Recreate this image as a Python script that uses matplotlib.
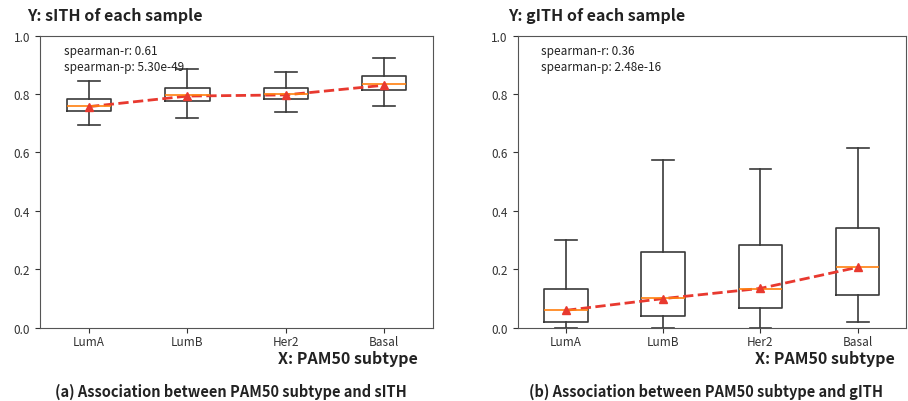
import matplotlib
matplotlib.use("Agg")
import matplotlib.pyplot as plt

plt.rcParams['font.family'] = ['Noto Sans CJK KR', 'DejaVu Sans']

subtypes = ["LumA", "LumB", "Her2", "Basal"]

# sITH per subtype: box statistics
s_whislo = [0.693, 0.717, 0.739, 0.758]
s_q1 = [0.742, 0.776, 0.782, 0.815]
s_med = [0.760, 0.797, 0.800, 0.833]
s_q3 = [0.783, 0.820, 0.820, 0.863]
s_whishi = [0.845, 0.885, 0.875, 0.922]
s_mean = [0.757, 0.793, 0.797, 0.830]
s_r, s_p = "0.61", "5.30e-49"

# gITH per subtype: box statistics
g_whislo = [0.0, 0.0, 0.0, 0.020]
g_q1 = [0.020, 0.041, 0.067, 0.113]
g_med = [0.062, 0.103, 0.134, 0.208]
g_q3 = [0.134, 0.258, 0.285, 0.342]
g_whishi = [0.300, 0.575, 0.542, 0.614]
g_mean = [0.060, 0.100, 0.135, 0.207]
g_r, g_p = "0.36", "2.48e-16"

RED = "#e8392f"
INK = "#333333"


def make_stats(lo, q1, med, q3, hi, mean):
    return [dict(label=lab, whislo=a, q1=b, med=c, q3=d, whishi=e, mean=m, fliers=[])
            for lab, a, b, c, d, e, m in zip(subtypes, lo, q1, med, q3, hi, mean)]


def draw_panel(ax, stats, means, r, p):
    pos = list(range(1, len(subtypes) + 1))
    line = dict(color="#3a3a3a", linewidth=1.2)
    ax.bxp(stats, positions=pos, widths=0.45, showmeans=True, showfliers=False,
           boxprops=line, whiskerprops=line, capprops=line,
           meanprops=dict(marker="^", markerfacecolor=RED, markeredgecolor=RED, markersize=6),
           medianprops=dict(color="#ff7f0e", linewidth=1.2))
    ax.plot(pos, means, "--", color=RED, linewidth=2)
    ax.set_ylim(0, 1.0)
    ax.set_xlim(0.5, 4.5)
    ax.set_yticks([0, 0.2, 0.4, 0.6, 0.8, 1.0])
    ax.set_yticklabels(["0.0", "0.2", "0.4", "0.6", "0.8", "1.0"])
    ax.tick_params(labelsize=8.5, colors=INK)
    ax.tick_params(axis="x", pad=1.5)
    for s in ax.spines.values():
        s.set_color("#555555")
    ax.text(0.06, 0.97, f"spearman-r: {r}\nspearman-p: {p}", transform=ax.transAxes,
            ha="left", va="top", fontsize=8.5, color="#222222", linespacing=1.3)


fig = plt.figure(figsize=(9.08, 4.02), dpi=100)
ax1 = fig.add_axes([0.044, 0.182, 0.433, 0.727])
ax2 = fig.add_axes([0.570, 0.182, 0.428, 0.727])

draw_panel(ax1, make_stats(s_whislo, s_q1, s_med, s_q3, s_whishi, s_mean), s_mean, s_r, s_p)
draw_panel(ax2, make_stats(g_whislo, g_q1, g_med, g_q3, g_whishi, g_mean), g_mean, g_r, g_p)

# axis captions and panel captions
fig.text(27 / 908, 1 - 16 / 402, "Y: sITH of each sample", fontsize=11.5, fontweight="bold",
         ha="left", va="center", color="#222222")
fig.text(508 / 908, 1 - 16 / 402, "Y: gITH of each sample", fontsize=11.5, fontweight="bold",
         ha="left", va="center", color="#222222")
fig.text(418 / 908, 1 - 359 / 402, "X: PAM50 subtype", fontsize=11.5, fontweight="bold",
         ha="right", va="center", color="#222222")
fig.text(895 / 908, 1 - 359 / 402, "X: PAM50 subtype", fontsize=11.5, fontweight="bold",
         ha="right", va="center", color="#222222")
fig.text(231 / 908, 1 - 392 / 402, "(a) Association between PAM50 subtype and sITH",
         fontsize=10.5, fontweight="bold", ha="center", va="center", color="#222222")
fig.text(706 / 908, 1 - 392 / 402, "(b) Association between PAM50 subtype and gITH",
         fontsize=10.5, fontweight="bold", ha="center", va="center", color="#222222")

fig.savefig("out.png", dpi=100)
